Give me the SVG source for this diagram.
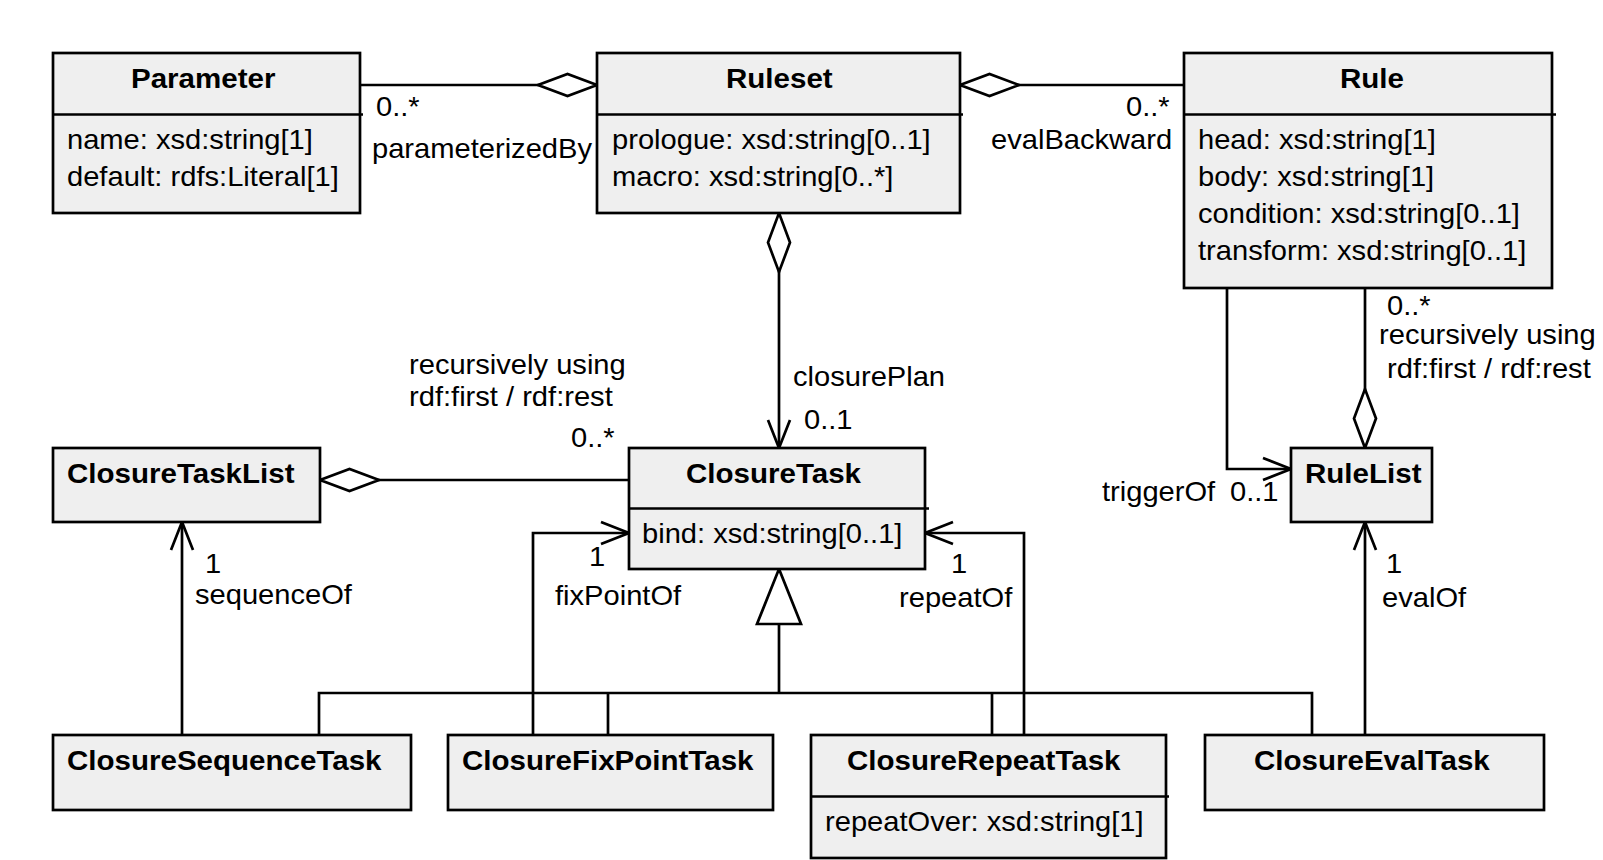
<svg xmlns="http://www.w3.org/2000/svg" width="1603" height="860" viewBox="0 0 1603 860">
<style>
.box{fill:#efefef;stroke:#000;stroke-width:2.7}
.div{stroke:#000;stroke-width:2.7}
.con{fill:none;stroke:#000;stroke-width:2.7}
.t{font-family:"Liberation Sans",Arial,sans-serif;font-size:28px;fill:#000}
.b{font-weight:bold}
</style>
<defs>
<marker id="open" viewBox="-31 -14 34 28" markerWidth="34" markerHeight="28" refX="0" refY="0" orient="auto" markerUnits="userSpaceOnUse" overflow="visible"><path d="M-28,-11 L0,0 L-28,11" fill="none" stroke="#000" stroke-width="2.7"/></marker>
<marker id="dia" viewBox="-3 -14 64 28" markerWidth="64" markerHeight="28" refX="0" refY="0" orient="auto" markerUnits="userSpaceOnUse" overflow="visible"><path d="M0,0 L29.5,-11 L59,0 L29.5,11 Z" fill="#fff" stroke="#000" stroke-width="2.7"/></marker>
<marker id="gen" viewBox="-58 -25 62 50" markerWidth="62" markerHeight="50" refX="0" refY="0" orient="auto" markerUnits="userSpaceOnUse" overflow="visible"><path d="M0,0 L-55,-22 L-55,22 Z" fill="#fff" stroke="#000" stroke-width="2.7"/></marker>
</defs>
<rect width="1603" height="860" fill="#fff"/>

<g id="connectors">
<path class="con" d="M597,85 H360" marker-start="url(#dia)"/>
<path class="con" d="M960,85 H1184" marker-start="url(#dia)"/>
<path class="con" d="M779,213 V448" marker-start="url(#dia)" marker-end="url(#open)"/>
<path class="con" d="M320,480 H629" marker-start="url(#dia)"/>
<path class="con" d="M182,735 V522" marker-end="url(#open)"/>
<path class="con" d="M533,735 V533 H629" marker-end="url(#open)"/>
<path class="con" d="M1024,735 V533 H925" marker-end="url(#open)"/>
<path class="con" d="M1227,288 V469 H1291" marker-end="url(#open)"/>
<path class="con" d="M1365,448 V288" marker-start="url(#dia)"/>
<path class="con" d="M1365,735 V522" marker-end="url(#open)"/>
<path class="con" d="M319,735 V693 H1312 V735 M608,693 V735 M992,693 V735"/>
<path class="con" d="M779,693 V569" marker-end="url(#gen)"/>
<text class="t" transform="translate(376 116) scale(1.04 1)">0..*</text>
<text class="t" transform="translate(372 158) scale(1.04 1)">parameterizedBy</text>
<text class="t" transform="translate(1126 116) scale(1.04 1)">0..*</text>
<text class="t" transform="translate(991 149) scale(1.04 1)">evalBackward</text>
<text class="t" transform="translate(409 374) scale(1.04 1)">recursively using</text>
<text class="t" transform="translate(409 406) scale(1.04 1)">rdf:first / rdf:rest</text>
<text class="t" transform="translate(793 386) scale(1.04 1)">closurePlan</text>
<text class="t" transform="translate(804 429) scale(1.04 1)">0..1</text>
<text class="t" transform="translate(571 447) scale(1.04 1)">0..*</text>
<text class="t" transform="translate(205 573) scale(1.04 1)">1</text>
<text class="t" transform="translate(195 604) scale(1.04 1)">sequenceOf</text>
<text class="t" transform="translate(589 566) scale(1.04 1)">1</text>
<text class="t" transform="translate(555 605) scale(1.04 1)">fixPointOf</text>
<text class="t" transform="translate(951 573) scale(1.04 1)">1</text>
<text class="t" transform="translate(899 607) scale(1.04 1)">repeatOf</text>
<text class="t" transform="translate(1102 501) scale(1.04 1)">triggerOf</text>
<text class="t" transform="translate(1230 501) scale(1.04 1)">0..1</text>
<text class="t" transform="translate(1387 315) scale(1.04 1)">0..*</text>
<text class="t" transform="translate(1379 344) scale(1.04 1)">recursively using</text>
<text class="t" transform="translate(1387 378) scale(1.04 1)">rdf:first / rdf:rest</text>
<text class="t" transform="translate(1386 573) scale(1.04 1)">1</text>
<text class="t" transform="translate(1382 607) scale(1.04 1)">evalOf</text>
</g>

<g id="Parameter">
<rect class="box" x="53" y="53" width="307" height="160"/>
<line class="div" x1="53" y1="114.5" x2="363" y2="114.5"/>
<text class="t b" transform="translate(131 88) scale(1.055 1)">Parameter</text>
<text class="t" transform="translate(67 149) scale(1.04 1)">name: xsd:string[1]</text>
<text class="t" transform="translate(67 186) scale(1.04 1)">default: rdfs:Literal[1]</text>
</g>

<g id="Ruleset">
<rect class="box" x="597" y="53" width="363" height="160"/>
<line class="div" x1="597" y1="114.5" x2="963" y2="114.5"/>
<text class="t b" transform="translate(726 88) scale(1.055 1)">Ruleset</text>
<text class="t" transform="translate(612 149) scale(1.04 1)">prologue: xsd:string[0..1]</text>
<text class="t" transform="translate(612 186) scale(1.04 1)">macro: xsd:string[0..*]</text>
</g>

<g id="Rule">
<rect class="box" x="1184" y="53" width="368" height="235"/>
<line class="div" x1="1184" y1="114.5" x2="1556" y2="114.5"/>
<text class="t b" transform="translate(1340 88) scale(1.055 1)">Rule</text>
<text class="t" transform="translate(1198 149) scale(1.04 1)">head: xsd:string[1]</text>
<text class="t" transform="translate(1198 186) scale(1.04 1)">body: xsd:string[1]</text>
<text class="t" transform="translate(1198 223) scale(1.04 1)">condition: xsd:string[0..1]</text>
<text class="t" transform="translate(1198 260) scale(1.04 1)">transform: xsd:string[0..1]</text>
</g>

<g id="ClosureTaskList">
<rect class="box" x="53" y="448" width="267" height="74"/>
<text class="t b" transform="translate(67 483) scale(1.055 1)">ClosureTaskList</text>
</g>

<g id="ClosureTask">
<rect class="box" x="629" y="448" width="296" height="121"/>
<line class="div" x1="629" y1="508.5" x2="929" y2="508.5"/>
<text class="t b" transform="translate(686 483) scale(1.055 1)">ClosureTask</text>
<text class="t" transform="translate(642 543) scale(1.04 1)">bind: xsd:string[0..1]</text>
</g>

<g id="RuleList">
<rect class="box" x="1291" y="448" width="141" height="74"/>
<text class="t b" transform="translate(1305 483) scale(1.055 1)">RuleList</text>
</g>

<g id="ClosureSequenceTask">
<rect class="box" x="53" y="735" width="358" height="75"/>
<text class="t b" transform="translate(67 770) scale(1.055 1)">ClosureSequenceTask</text>
</g>

<g id="ClosureFixPointTask">
<rect class="box" x="448" y="735" width="325" height="75"/>
<text class="t b" transform="translate(462 770) scale(1.055 1)">ClosureFixPointTask</text>
</g>

<g id="ClosureRepeatTask">
<rect class="box" x="811" y="735" width="355" height="123"/>
<line class="div" x1="811" y1="796.5" x2="1169" y2="796.5"/>
<text class="t b" transform="translate(847 770) scale(1.055 1)">ClosureRepeatTask</text>
<text class="t" transform="translate(825 831) scale(1.04 1)">repeatOver: xsd:string[1]</text>
</g>

<g id="ClosureEvalTask">
<rect class="box" x="1205" y="735" width="339" height="75"/>
<text class="t b" transform="translate(1254 770) scale(1.055 1)">ClosureEvalTask</text>
</g>
</svg>
